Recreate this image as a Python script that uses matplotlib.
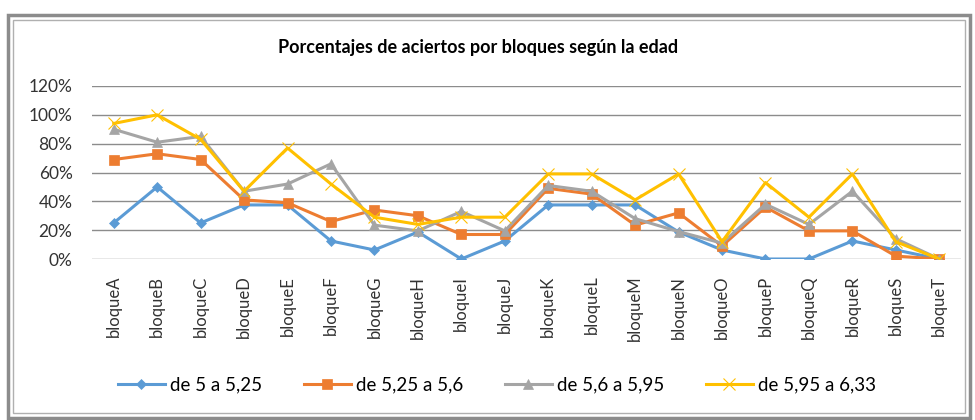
import matplotlib
matplotlib.use('Agg')
import matplotlib.pyplot as plt
from matplotlib.patches import Rectangle
import numpy as np

plt.rcParams['font.family'] = ['Lato', 'DejaVu Sans']

bloques = ['bloqueA', 'bloqueB', 'bloqueC', 'bloqueD', 'bloqueE', 'bloqueF', 'bloqueG',
           'bloqueH', 'bloqueI', 'bloqueJ', 'bloqueK', 'bloqueL', 'bloqueM', 'bloqueN',
           'bloqueO', 'bloqueP', 'bloqueQ', 'bloqueR', 'bloqueS', 'bloqueT']

edad_1 = [25, 50, 25, 37.5, 37.5, 12.5, 6.25, 18.75, 0, 12.5,
          37.5, 37.5, 37.5, 18.75, 6.25, 0, 0, 12.5, 6.25, 0]
edad_2 = [69, 73, 69, 41, 39, 26, 34, 30, 17, 17,
          49, 45, 23.5, 32, 9, 36, 19.5, 19.5, 2, 0]
edad_3 = [90, 81, 85, 47, 52, 66, 23.5, 19.5, 33, 19.5,
          51, 47, 28, 19, 11, 38, 24, 47, 14, 0]
edad_4 = [94, 100, 83, 47, 77, 52, 29, 24, 29, 29,
          59, 59, 41, 59, 12, 53, 29, 59, 12, 0]

series = [
    ('de 5 a 5,25', edad_1, '#5B9BD5', 'D', 5.5),
    ('de 5,25 a 5,6', edad_2, '#ED7D31', 's', 7),
    ('de 5,6 a 5,95', edad_3, '#A5A5A5', '^', 7.5),
    ('de 5,95 a 6,33', edad_4, '#FFC000', 'x', 8),
]

fig = plt.figure(figsize=(9.75, 4.2), dpi=100)
ax = fig.add_axes([92 / 975, 1 - 259 / 420, (961 - 92) / 975, (259 - 86) / 420])

x = np.arange(len(bloques))
for label, vals, color, marker, ms in series:
    ax.plot(x, np.array(vals) / 100, color=color, marker=marker, markersize=ms,
            linewidth=2.2, label=label, markeredgewidth=0.8 if marker == 'x' else 0.5,
            markeredgecolor=color)

ax.set_xlim(-0.5, len(bloques) - 0.5)
ax.set_ylim(0, 1.2)
ax.set_yticks(np.arange(0, 1.21, 0.2))
ax.set_yticklabels([f'{int(round(v * 100))}%' for v in np.arange(0, 1.21, 0.2)], fontsize=12.5)
ax.set_xticks(x)
ax.set_xticklabels(bloques, rotation=90, fontsize=12)
ax.tick_params(length=0, pad=10)
ax.tick_params(axis='y', pad=14, colors='#333333')
ax.tick_params(axis='x', pad=12, colors='#333333')
for s in ax.spines.values():
    s.set_visible(False)
ax.grid(axis='y', color='#8c8c8c', linewidth=1)
ax.set_axisbelow(True)

fig.text(478 / 975, 1 - 47 / 420, 'Porcentajes de aciertos por bloques según la edad',
         ha='center', va='center', fontsize=13, fontweight='bold')

fig.legend(loc='center', bbox_to_anchor=(497 / 975, 1 - 385 / 420), ncol=4, frameon=False,
           fontsize=13.5, handlelength=2.5, columnspacing=2.2, handletextpad=0.3)

# chart frame
fig.patches.append(Rectangle((8 / 975, 2 / 420), 962 / 975, 403 / 420, transform=fig.transFigure,
                             fill=False, edgecolor='#8c8c8c', linewidth=2.5))
fig.patches.append(Rectangle((13 / 975, 7 / 420), 952 / 975, 393 / 420, transform=fig.transFigure,
                             fill=False, edgecolor='#b0b0b0', linewidth=1))

fig.savefig('out.png', dpi=100)
